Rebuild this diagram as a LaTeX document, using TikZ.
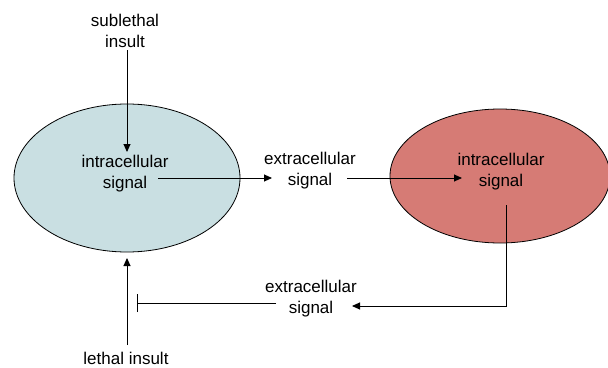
\documentclass[tikz,border=0pt]{standalone}
\usepackage{fontspec}
\setmainfont{Liberation Sans}
\usetikzlibrary{arrows.meta}
\definecolor{cellblue}{HTML}{C9DFE2}
\definecolor{cellred}{HTML}{D67B75}
\begin{document}
\begin{tikzpicture}[x=1pt,y=-1pt,
  lbl/.style={align=center,font=\fontsize{17}{21}\selectfont,inner sep=0pt},
  cell/.style={ellipse,draw=black,line width=0.8pt},
  arr/.style={-{Triangle[length=8pt,width=7pt]},line width=0.9pt},
  inh/.style={-{Bar[width=18pt]},line width=0.9pt}]
\useasboundingbox (0,0) rectangle (608,367);
\begin{scope}
\clip (0,0) rectangle (608,367);
\draw[fill=cellblue,line width=0.8pt] (127,178) ellipse [x radius=113, y radius=74];
\draw[fill=cellred,line width=0.8pt] (500,176) ellipse [x radius=110, y radius=67];
\end{scope}
\node[lbl] (sub) at (125,31) {sublethal\\insult};
\node[lbl] (in1) at (125,174) {intracellular\\signal};
\node[lbl] (ex1) at (310,171) {extracellular\\signal};
\node[lbl] (in2) at (501,172) {intracellular\\signal};
\node[lbl] (ex2) at (311,299) {extracellular\\signal};
\node[lbl] (leth) at (126,358) {lethal insult};
\coordinate (subE) at (127,152);
\coordinate (in1E) at (158,178);
\coordinate (ex1W) at (272,178);
\coordinate (ex1E) at (347,178);
\coordinate (in2W) at (462,178);
\coordinate (in2S) at (506,205);
\coordinate (corner) at (506,306);
\coordinate (ex2E) at (352,306);
\coordinate (ex2W) at (276,303);
\coordinate (bar) at (137,303);
\coordinate (lethN) at (127,345);
\coordinate (in1S) at (127,258);
\draw[arr] (127,50) -- (subE);
\draw[arr] (in1E) -- (ex1W);
\draw[arr] (ex1E) -- (in2W);
\draw[arr] (in2S) -- (corner) -- (ex2E);
\draw[inh] (ex2W) -- (bar);
\draw[arr] (lethN) -- (in1S);
\end{tikzpicture}
\end{document}
